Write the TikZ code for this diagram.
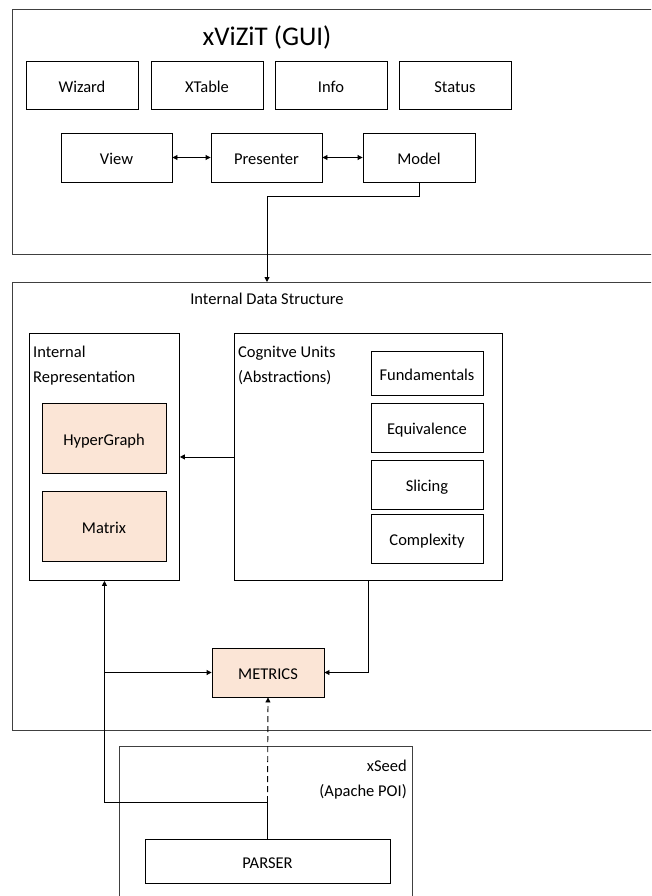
\documentclass[tikz,border=0pt]{standalone}
\usepackage{fontspec}
\setmainfont{Carlito}
\usetikzlibrary{arrows.meta,calc}
\definecolor{peach}{HTML}{FBE5D6}
\definecolor{frameg}{HTML}{404040}
\tikzset{
  box/.style={draw=black, line width=0.9pt, inner sep=0pt, text height=15.5pt, text depth=1pt, font=\fontsize{16.5}{20}\selectfont},
  fbox/.style={box, fill=peach},
  frame/.style={draw=frameg, line width=1.1pt, inner sep=0pt, anchor=north west},
  lbl/.style={inner sep=0pt, font=\fontsize{16.5}{25}\selectfont},
  arr/.style={draw=black, line width=0.9pt, -{Triangle[length=5pt,width=5pt]}},
  darr/.style={draw=black, line width=0.9pt, {Triangle[length=5pt,width=5pt]}-{Triangle[length=5pt,width=5pt]}},
}
\begin{document}
\begin{tikzpicture}[x=1pt,y=-1pt]
\useasboundingbox (0,0) rectangle (651,896);
\clip (0,0) rectangle (651,896);
% outer frames
\node[frame, minimum width=660pt, minimum height=245pt] (gui) at (12,9) {};
\node[inner sep=0pt, font=\fontsize{27}{30}\selectfont] (guititle) at (267,38) {xViZiT (GUI)};
\node[frame, minimum width=660pt, minimum height=448pt] (ids) at (12,282) {};
\node[lbl] (idstitle) at (267,299) {Internal Data Structure};
\node[frame, minimum width=293pt, minimum height=170pt] (xseed) at (119,746) {};
\node[lbl, align=right, anchor=north east] (xseedlbl) at (407,760) {xSeed\\(Apache POI)};
% GUI row 1
\node[box, minimum width=112pt, minimum height=48pt] (wizard) at (82,85) {Wizard};
\node[box, minimum width=112pt, minimum height=48pt] (xtable) at (207,85) {XTable};
\node[box, minimum width=112pt, minimum height=48pt] (info) at (331,85) {Info};
\node[box, minimum width=112pt, minimum height=48pt] (status) at (455,85) {Status};
% GUI row 2
\node[box, minimum width=111pt, minimum height=49pt] (view) at (116.5,157.5) {View};
\node[box, minimum width=111pt, minimum height=49pt] (presenter) at (266.5,157.5) {Presenter};
\node[box, minimum width=112pt, minimum height=49pt] (model) at (419,157.5) {Model};
\draw[darr] (view.east) -- (presenter.west);
\draw[darr] (presenter.east) -- (model.west);
% Internal representation
\node[frame, draw=black, line width=0.9pt, minimum width=150pt, minimum height=247pt] (intrep) at (29,333) {};
\node[lbl, align=left, anchor=north west] (intreplbl) at (33,346) {Internal\\Representation};
\node[fbox, minimum width=124pt, minimum height=70pt] (hyper) at (104,438) {HyperGraph};
\node[fbox, minimum width=124pt, minimum height=70pt] (matrix) at (104,526) {Matrix};
% Cognitive units
\node[frame, draw=black, line width=0.9pt, minimum width=268pt, minimum height=247pt] (cog) at (234,333) {};
\node[lbl, align=left, anchor=north west] (coglbl) at (238,346) {Cognitve Units\\(Abstractions)};
\node[box, minimum width=112pt, minimum height=44pt] (fund) at (427,373) {Fundamentals};
\node[box, minimum width=112pt, minimum height=49pt] (equiv) at (427,427.5) {Equivalence};
\node[box, minimum width=112pt, minimum height=49pt] (slicing) at (427,484.5) {Slicing};
\node[box, minimum width=112pt, minimum height=49pt] (complex) at (427,538.5) {Complexity};
% Metrics & parser
\node[fbox, minimum width=112pt, minimum height=49pt] (metrics) at (268,672.5) {METRICS};
\node[box, minimum width=245pt, minimum height=44pt] (parser) at (267.5,861) {PARSER};
% connectors
\coordinate (idsin) at (267,282);
\draw[arr] (model.south) -- ++(0,14) -| (idsin);
\draw[arr] (cog.west) -- (intrep.east);
\coordinate (cogout) at (368,580);
\draw[arr] (cogout) |- (metrics.east);
\coordinate (pcorner) at (267.5,802);
\draw[line width=0.9pt] (parser.north) -- (pcorner);
\draw[arr] (pcorner) -| (intrep.south);
\draw[arr] (intrep.south |- metrics.west) -- (metrics.west);
\draw[arr, dashed, dash pattern=on 6pt off 4pt] (pcorner) -- (metrics.south);
\end{tikzpicture}
\end{document}
